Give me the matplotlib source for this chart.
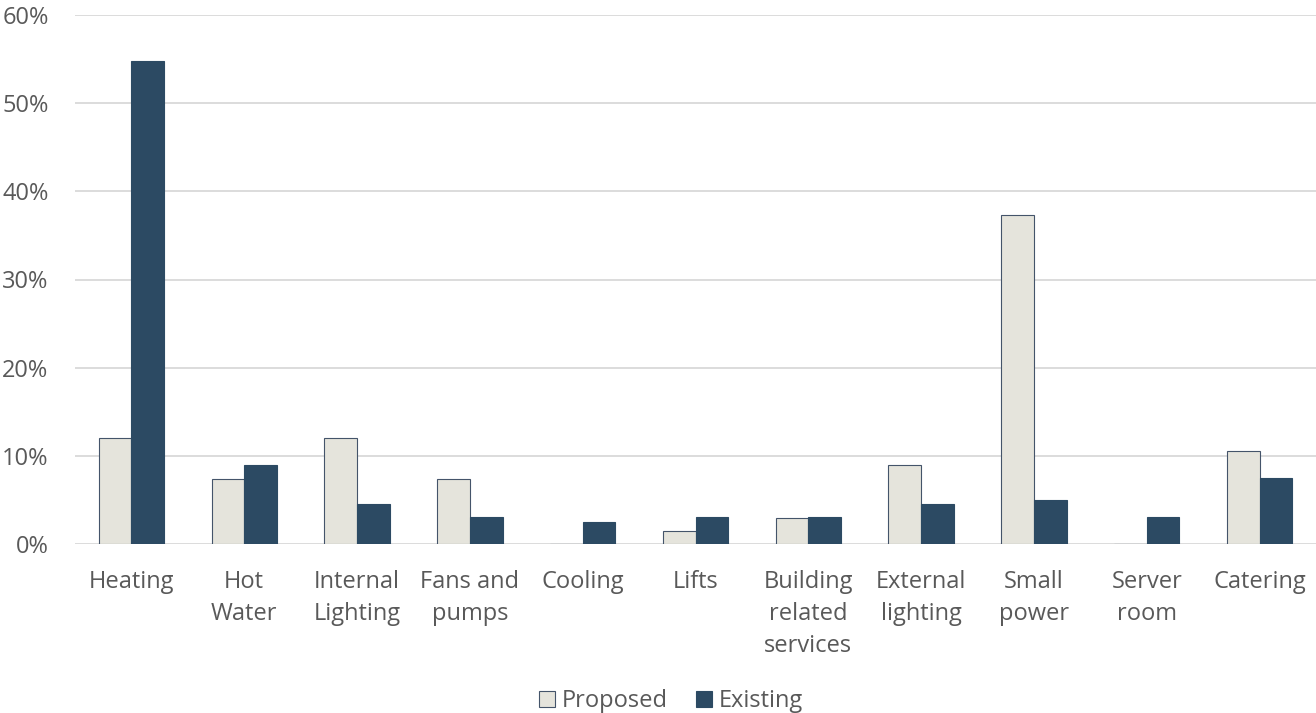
import numpy as np
import matplotlib.pyplot as plt
from matplotlib.ticker import PercentFormatter

plt.rcParams['font.family'] = ['Open Sans', 'DejaVu Sans']

categories = ['Heating', 'Hot\nWater', 'Internal\nLighting', 'Fans and\npumps', 'Cooling',
              'Lifts', 'Building\nrelated\nservices', 'External\nlighting', 'Small\npower',
              'Server\nroom', 'Catering']
proposed = [12.0, 7.4, 12.0, 7.4, 0.0, 1.5, 3.0, 9.0, 37.3, 0.0, 10.5]
existing = [54.8, 9.0, 4.5, 3.1, 2.5, 3.1, 3.1, 4.5, 5.0, 3.1, 7.5]

text_col = '#595959'
x = np.arange(len(categories))
w = 0.29

fig = plt.figure(figsize=(13.16, 7.13), dpi=100)
ax = fig.add_axes([75 / 1316, 1 - 544 / 713, 1 - 75 / 1316, (544 - 15) / 713])

ax.bar(x - w / 2, proposed, w, color='#E5E4DC', edgecolor='#44546A', linewidth=0.8,
       label='Proposed', zorder=3)
ax.bar(x + w / 2, existing, w, color='#2C4A63', edgecolor='#2C4A63', linewidth=0.8,
       label='Existing', zorder=3)

ax.set_ylim(0, 60)
ax.set_yticks(np.arange(0, 61, 10))
ax.yaxis.set_major_formatter(PercentFormatter(decimals=0))
ax.set_xlim(-0.5, len(categories) - 0.5)
ax.set_xticks(x)
ax.set_xticklabels(categories, linespacing=1.46)
ax.grid(axis='y', color='#D9D9D9', linewidth=1.3, zorder=0)
for s in ax.spines.values():
    s.set_visible(False)
ax.tick_params(length=0, labelsize=17, colors=text_col)
ax.tick_params(axis='y', pad=19)
ax.tick_params(axis='x', pad=18.5)

leg = fig.legend(loc='lower center', bbox_to_anchor=(0.51, -0.03), ncol=2, frameon=False,
                 fontsize=17, handlelength=0.65, handleheight=0.65, handletextpad=0.3,
                 columnspacing=1.2)
for t in leg.get_texts():
    t.set_color(text_col)

plt.savefig('out.png', dpi=100)
